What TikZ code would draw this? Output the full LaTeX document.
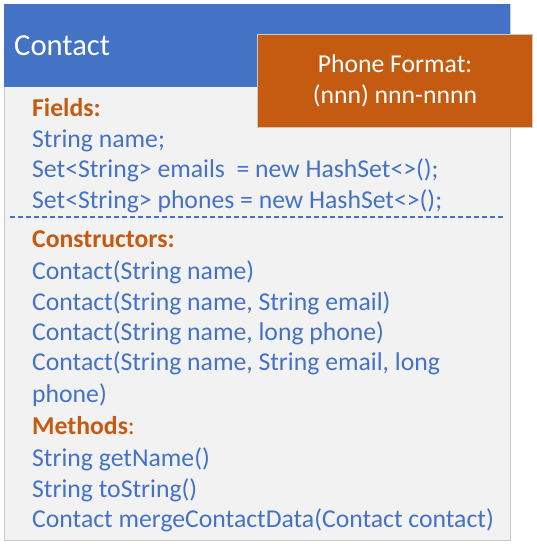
\documentclass[tikz,border=0pt]{standalone}
\usepackage{fontspec}
\setmainfont{Carlito}
\definecolor{hdrblue}{HTML}{4472C4}
\definecolor{accent}{HTML}{C55A11}
\definecolor{panel}{HTML}{F2F2F2}
\definecolor{rim}{HTML}{C9C9C9}
\begin{document}
\begin{tikzpicture}[x=1pt,y=-1pt,
  member/.style={anchor=base west,inner sep=0pt,text=hdrblue,font=\fontsize{25.7}{30}\selectfont},
  section/.style={anchor=base west,inner sep=0pt,text=accent,font=\fontsize{25.7}{30}\selectfont\bfseries},
  note/.style={fill=accent,draw=rim,line width=0.8pt,text=white,align=center,
    font=\fontsize{25.7}{31}\selectfont,inner sep=0pt}]
\useasboundingbox (0,0) rectangle (537,544);
% class body and title bar
\draw[rim,fill=panel,line width=1pt] (4,4) rectangle (510,540);
\fill[hdrblue] (4,4) rectangle (510,87);
\node[anchor=base west,inner sep=0pt,text=white,font=\fontsize{30.6}{36}\selectfont] (title) at (14,55) {Contact};
% phone format note
\node[note,minimum width=275pt,minimum height=93pt] (fmt) at (395,80.5) {Phone Format:\\(nnn) nnn-nnnn};
% fields
\node[section] (fields) at (32,116) {Fields:};
\node[member] (f1) at (32,147) {String name;};
\node[member] (f2) at (32,177) {Set<String> emails\ \ = new HashSet<>();};
\node[member] (f3) at (32,208) {Set<String> phones = new HashSet<>();};
% divider
\coordinate (dl) at (10,217);
\coordinate (dr) at (505,217);
\draw[hdrblue,line width=1.5pt,dash pattern=on 5pt off 3pt] (dl) -- (dr);
% constructors
\node[section] (ctors) at (32,247) {Constructors:};
\node[member] (c1) at (32,279) {Contact(String name)};
\node[member] (c2) at (32,310) {Contact(String name, String email)};
\node[member] (c3) at (32,340) {Contact(String name, long phone)};
\node[member] (c4) at (32,370) {Contact(String name, String email, long};
\node[member] (c4b) at (32,402) {phone)};
% methods
\node[section] (methods) at (32,434) {Methods{\mdseries:}};
\node[member] (m1) at (32,466) {String getName()};
\node[member] (m2) at (32,497) {String toString()};
\node[member] (m3) at (32,527) {Contact mergeContactData(Contact contact)};
\end{tikzpicture}
\end{document}
